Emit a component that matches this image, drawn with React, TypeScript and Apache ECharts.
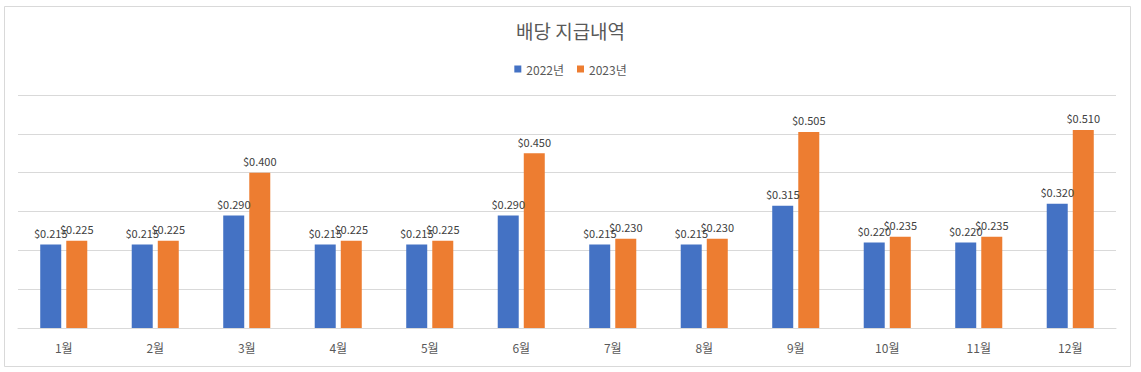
import React, { useEffect, useRef } from "react";
import * as echarts from "echarts";

const months = ["1월", "2월", "3월", "4월", "5월", "6월", "7월", "8월", "9월", "10월", "11월", "12월"];
const series2022 = [0.215, 0.215, 0.29, 0.215, 0.215, 0.29, 0.215, 0.215, 0.315, 0.22, 0.22, 0.32];
const series2023 = [0.225, 0.225, 0.4, 0.225, 0.225, 0.45, 0.23, 0.23, 0.505, 0.235, 0.235, 0.51];
const seriesNames = ["2022년", "2023년"];
const titleText = "배당 지급내역";

const FONT = "'Noto Sans CJK KR', 'Noto Sans', sans-serif";

export default function App() {
  const ref = useRef<HTMLDivElement>(null);
  useEffect(() => {
    if (!ref.current) return;
    const chart = echarts.init(ref.current, undefined, { renderer: "svg" });
    const label = {
      show: true,
      position: "top",
      distance: 6,
      color: "#404040",
      fontSize: 11,
      fontFamily: FONT,
      formatter: (p: any) => "$" + Number(p.value).toFixed(3),
    };
    chart.setOption({
      animation: false,
      backgroundColor: "#ffffff",
      textStyle: { fontFamily: FONT },
      title: {
        text: titleText,
        left: "center",
        top: 16,
        textStyle: { fontSize: 19, fontWeight: "normal", color: "#595959", fontFamily: FONT },
      },
      legend: {
        top: 58,
        left: "center",
        itemWidth: 7,
        itemHeight: 7,
        itemGap: 13,
        icon: "rect",
        textStyle: { fontSize: 12, color: "#595959", fontFamily: FONT },
        data: seriesNames,
      },
      graphic: [
        {
          type: "rect",
          shape: { x: 4.5, y: 6.5, width: 1126, height: 360 },
          style: { fill: "none", stroke: "#d9d9d9", lineWidth: 1 },
          silent: true,
          z: -1,
        },
      ],
      grid: { left: 18, right: 25, top: 95, bottom: 44, containLabel: false },
      xAxis: {
        type: "category",
        data: months,
        axisLine: { show: true, lineStyle: { color: "#d9d9d9" } },
        axisTick: { show: false },
        axisLabel: { color: "#595959", fontSize: 12, margin: 13, fontFamily: FONT },
      },
      yAxis: {
        type: "value",
        min: 0,
        max: 0.6,
        interval: 0.1,
        axisLabel: { show: false },
        axisLine: { show: false },
        axisTick: { show: false },
        splitLine: { lineStyle: { color: "#d9d9d9" } },
      },
      series: [
        {
          name: seriesNames[0],
          type: "bar",
          data: series2022,
          barWidth: 21,
          barGap: "24%",
          itemStyle: { color: "#4472c4" },
          label,
        },
        {
          name: seriesNames[1],
          type: "bar",
          data: series2023,
          barWidth: 21,
          barGap: "24%",
          itemStyle: { color: "#ed7d31" },
          label,
        },
      ],
    });
    return () => chart.dispose();
  }, []);
  return (
    <div
      ref={ref}
      style={{ position: "fixed", left: 0, top: 0, width: 1141, height: 372 }}
    />
  );
}
